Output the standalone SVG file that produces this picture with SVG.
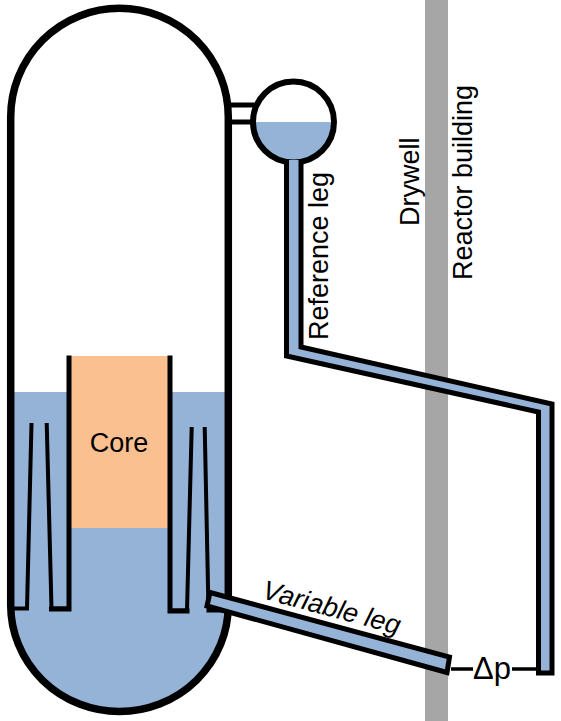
<svg xmlns="http://www.w3.org/2000/svg" width="561" height="721" viewBox="0 0 561 721">
<style>
.w{fill:#95B3D7}
.l{fill:none;stroke:#000;stroke-width:5;stroke-linecap:square;stroke-linejoin:miter}
.b{fill:#95B3D7;stroke:#000;stroke-width:5;stroke-linejoin:miter}
.j{fill:none;stroke:#000;stroke-width:4;stroke-linejoin:miter}
text{font-family:"Liberation Sans",Arial,sans-serif;fill:#000;font-size:27px}
</style>
<rect id="wall" x="425" y="0" width="23" height="721" fill="#A6A6A6"/>
<g id="vessel">
<path class="w" d="M11 392H228V605A108.500 106.500 0 0 1 11 605Z"/>
<rect x="70" y="356" width="100" height="172" fill="#FAC090"/>
<path d="M10.700 605V117A108.800 108.700 0 0 1 228.300 117V605A108.800 106.500 0 0 1 10.700 605Z" fill="none" stroke="#000" stroke-width="7.500"/>
<path class="l" d="M69 358V609H51.500"/>
<path class="l" d="M170 358V611H187"/>
<path class="j" d="M14 608.500H27L31.500 423"/>
<path class="j" d="M46.700 423L51.500 608.500H69"/>
<path class="j" d="M191.700 427L187 610.500H170"/>
<path class="j" d="M204.700 427L208.500 610.500H228"/>
<text x="119" y="452" text-anchor="middle">Core</text>
</g>
<g id="reference-chamber">
<path class="w" d="M253 122H334A40.500 40.500 0 0 1 253 122Z"/>
<circle cx="293.500" cy="122" r="40.500" fill="none" stroke="#000" stroke-width="6"/>
<path class="l" d="M229 105H252M229 122H252"/>
</g>
<g id="connectors">
<path class="w" d="M286.500 160H301V347L552 404V673H538.500V412L286.500 356Z"/>
<path class="l" d="M286.500 162V356L538.500 412V673H552V404L301 347V162"/>
<path class="b" d="M210 592.500L449.500 657L447 672.500L207 606Z"/>
<path d="M451 669H473M512 669H536" stroke="#000" stroke-width="3.500" fill="none"/>
</g>
<g id="labels">
<text transform="translate(328 340) rotate(-90)">Reference leg</text>
<text transform="translate(419 226) rotate(-90)">Drywell</text>
<text transform="translate(472 280) rotate(-90)">Reactor building</text>
<text transform="translate(261 598) rotate(15)" font-style="italic">Variable leg</text>
<text x="473" y="679" style="font-size:31px">Δp</text>
</g>
</svg>
